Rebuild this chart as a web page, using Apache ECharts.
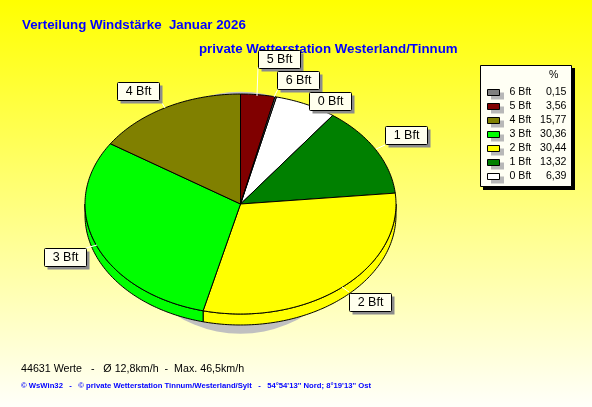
<!DOCTYPE html>
<html><head><meta charset="utf-8">
<style>html,body{margin:0;padding:0;background:#fff}#c{width:592px;height:407px}</style>
<script src="https://cdn.jsdelivr.net/npm/echarts@6/dist/echarts.min.js"></script>
</head><body><div id="c"></div>
<script>
// Pie order, clockwise
const categories = ['0 Bft','1 Bft','2 Bft','3 Bft','4 Bft','5 Bft','6 Bft'];
const percent    = [6.39, 13.32, 30.44, 30.36, 15.77, 3.56, 0.15];
const percentTxt = ['6,39','13,32','30,44','30,36','15,77','3,56','0,15'];
const colors     = ['#ffffff','#008000','#ffff00','#00ff00','#808000','#800000','#808080'];
const legendOrder = ['6 Bft','5 Bft','4 Bft','3 Bft','2 Bft','1 Bft','0 Bft'];

// Layout (pixels), kept apart from the data
const callouts = {
  '5 Bft': {box:[258,50], line:[258,67,257,96]},
  '6 Bft': {box:[277,71], line:[278,89,274,97]},
  '0 Bft': {box:[309,92], line:[320,110,316,112]},
  '1 Bft': {box:[385,126], line:[385,145,376,149]},
  '2 Bft': {box:[349,293], line:[349,292,342,287]},
  '3 Bft': {box:[44,248], line:[86,248,97,245]},
  '4 Bft': {box:[117,82], line:[162,103,165,108]}
};
const legendBox = {x:480, y:65, w:91, h:121, rowH:14, firstRow:92.5, padTop:22, padLeft:7, swatchW:12, swatchH:6};
const DEPTH = 11;
const FONT = '"Liberation Sans", Arial, sans-serif';

// Angles clockwise from 12 o'clock; 5 Bft begins exactly at the top
const total = percent.reduce((a, b) => a + b, 0);
let acc = (percent[5] + percent[6]) / total * 360;
const slices = percent.map(p => {
  const a0 = acc;
  acc += p / total * 360;
  return [a0, acc];
});

const arcPts = (api, a0, a1, dy) => {
  const pts = [], n = Math.max(1, Math.ceil(a1 - a0));
  for (let k = 0; k <= n; k++) {
    const r = (a0 + (a1 - a0) * k / n) * Math.PI / 180;
    const c = api.coord([Math.sin(r), Math.cos(r)]);
    pts.push([c[0], c[1] + dy]);
  }
  return pts;
};

const base = {type:'custom', coordinateSystem:'cartesian2d', silent:true, animation:false,
  encode:{x:0, y:1}};

const series = [
  Object.assign({}, base, {name:'Schatten', z:1, data:[[0, -0.08]],
    renderItem:(p, api) => {
      const c = api.coord([api.value(0), api.value(1)]);
      return {type:'circle', shape:{cx:c[0], cy:c[1], r:121}, style:{fill:'#c0c0c0'}};
    }}),
  Object.assign({}, base, {name:'Seite', z:2,
    data:slices.map((s, i) => [0, 0, i]),
    renderItem:(p, api) => {
      const i = api.value(2), s = slices[i];
      const lo = Math.max(s[0], 90), hi = Math.min(s[1], 270);
      if (hi <= lo) return {type:'group', children:[]};
      const up = arcPts(api, lo, hi, 0), dn = arcPts(api, lo, hi, DEPTH).reverse();
      return {type:'polygon', shape:{points:up.concat(dn)},
        style:{fill:colors[i], stroke:'#000', lineWidth:1}};
    }})
].concat(categories.map((name, i) => Object.assign({}, base, {
  name, z:3, itemStyle:{color:colors[i]},
  data:[[0, 0]],
  renderItem:(p, api) => {
    const s = slices[i];
    const pts = [api.coord([0, 0])].concat(arcPts(api, s[0], s[1], 0));
    return {type:'polygon', shape:{points:pts},
      style:{fill:colors[i], stroke:'#000', lineWidth:1, lineJoin:'round'}};
  }
})));

const graphics = [];
Object.keys(callouts).forEach(name => {
  const c = callouts[name], x = c.box[0], y = c.box[1], w = 42, h = 18;
  graphics.push(
    {type:'line', z:100, silent:true, shape:{x1:c.line[0], y1:c.line[1], x2:c.line[2], y2:c.line[3]},
      style:{stroke:'#ffffff', lineWidth:1}},
    {type:'rect', z:101, silent:true, shape:{x:x + 3.5, y:y + 3.5, width:w, height:h}, style:{fill:'#8c8c8c'}},
    {type:'rect', z:102, silent:true, shape:{x:x + 0.5, y:y + 0.5, width:w, height:h, r:1},
      style:{fill:'#ffffee', stroke:'#000', lineWidth:1}},
    {type:'text', z:103, silent:true, x:x + w / 2 + 0.5, y:y + h / 2 + 1,
      style:{text:name, fill:'#000', font:'12.5px ' + FONT, align:'center', verticalAlign:'middle'}}
  );
});
// Legend panel, its hard shadow and the swatch shadows sit below the legend itself
const L = legendBox;
graphics.push(
  {type:'rect', z:4, silent:true, shape:{x:L.x + 3, y:L.y + 3, width:L.w + 1, height:L.h + 1}, style:{fill:'#000'}},
  {type:'rect', z:5, silent:true, shape:{x:L.x + 0.5, y:L.y + 0.5, width:L.w, height:L.h},
    style:{fill:'#fffff4', stroke:'#000', lineWidth:1}}
);
legendOrder.forEach((n, k) => {
  graphics.push({type:'rect', z:6, silent:true,
    shape:{x:L.x + L.padLeft + 4, y:L.firstRow + k * L.rowH - L.swatchH / 2 + 3, width:L.swatchW + 1, height:L.swatchH + 1},
    style:{fill:'#b8b8b8'}});
});

const valueOf = n => percentTxt[categories.indexOf(n)];
const chart = echarts.init(document.getElementById('c'), null, {renderer:'canvas'});
chart.setOption({
  animation:false,
  backgroundColor:{type:'linear', x:0, y:0, x2:0, y2:1,
    colorStops:[{offset:0, color:'#ffff00'}, {offset:1, color:'#fffffa'}]},
  title:[
    {text:'Verteilung Windstärke  Januar 2026', left:22, top:19, padding:0, z:0,
      textStyle:{fontFamily:FONT, fontSize:13.3, fontWeight:'bold', color:'#0000ff'}},
    {text:'private Wetterstation Westerland/Tinnum', left:199, top:43, padding:0, z:0,
      textStyle:{fontFamily:FONT, fontSize:13.3, fontWeight:'bold', color:'#0000ff'}},
    {text:'44631 Werte   -   Ø 12,8km/h  -  Max. 46,5km/h', left:21, top:364, padding:0,
      textStyle:{fontFamily:FONT, fontSize:10.7, fontWeight:'normal', color:'#000'}},
    {text:"© WsWin32   -   © private Wetterstation Tinnum/Westerland/Sylt   -   54°54'13'' Nord; 8°19'13'' Ost",
      left:21, top:382, padding:0,
      textStyle:{fontFamily:FONT, fontSize:7.7, fontWeight:'bold', color:'#0000ff'}},
    {text:'%', left:549, top:70, padding:0, z:40,
      textStyle:{fontFamily:FONT, fontSize:10.6, fontWeight:'normal', color:'#000'}}
  ],
  grid:{left:85, top:94, width:311, height:220, containLabel:false},
  xAxis:{type:'value', min:-1, max:1, show:false},
  yAxis:{type:'value', min:-1, max:1, show:false},
  legend:{
    data:legendOrder, orient:'vertical', left:L.x, top:L.y, selectedMode:false, z:20,
    padding:[L.padTop, 5, 4, L.padLeft], itemWidth:L.swatchW, itemHeight:L.swatchH, itemGap:3,
    icon:'rect',
    itemStyle:{borderColor:'#000', borderWidth:1},
    formatter:n => '{n|' + n + '}{v|' + valueOf(n) + '}',
    textStyle:{fontFamily:FONT, fontSize:10.6, color:'#000',
      rich:{n:{width:29, padding:[0,0,0,5], fontFamily:FONT, fontSize:10.6},
            v:{width:28, align:'right', fontFamily:FONT, fontSize:10.6}}}
  },
  series,
  graphic:{elements:graphics}
});
</script></body></html>
